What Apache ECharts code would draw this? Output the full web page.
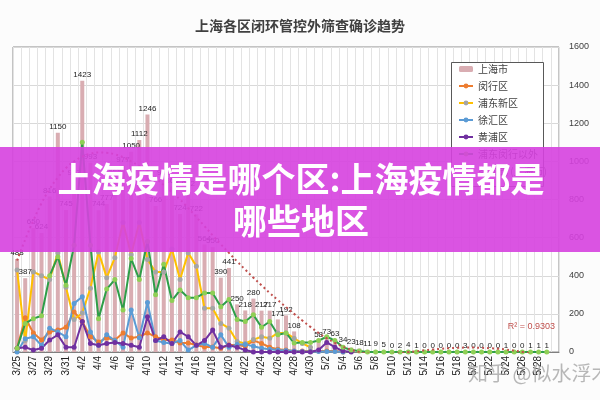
<!DOCTYPE html>
<html>
<head>
<meta charset="utf-8">
<title>上海各区闭环管控外筛查确诊趋势</title>
<script src="https://cdn.jsdelivr.net/npm/echarts@6/dist/echarts.min.js"></script>
<style>
  html, body { margin: 0; padding: 0; background: #fcfcfc; }
  #myChart { width: 600px; height: 400px; }
</style>
</head>
<body>
<div id="myChart"></div>
<script>
// 日期 3/25 - 5/29
var dates = [
  "3/25", "3/26", "3/27", "3/28", "3/29", "3/30", "3/31",
  "4/1", "4/2", "4/3", "4/4", "4/5", "4/6", "4/7", "4/8", "4/9", "4/10",
  "4/11", "4/12", "4/13", "4/14", "4/15", "4/16", "4/17", "4/18", "4/19", "4/20",
  "4/21", "4/22", "4/23", "4/24", "4/25", "4/26", "4/27", "4/28", "4/29", "4/30",
  "5/1", "5/2", "5/3", "5/4", "5/5", "5/6", "5/7", "5/8", "5/9", "5/10",
  "5/11", "5/12", "5/13", "5/14", "5/15", "5/16", "5/17", "5/18", "5/19", "5/20",
  "5/21", "5/22", "5/23", "5/24", "5/25", "5/26", "5/27", "5/28", "5/29"
];

// 上海市 (柱)
var shanghai = [
  488, 387, 650, 624, 816, 1150, 745,
  907, 1423, 993, 744, 777, 928, 977, 1050, 1112, 1246,
  766, 910, 868, 724, 852, 722, 564, 550, 390, 441,
  250, 218, 280, 217, 217, 171, 192, 108, null, null,
  58, 73, 63, 34, 23, 18, 11, 9, 5, 0,
  2, 4, 1, 0, 0, 0, 0, 0, 3, 0,
  0, 0, 0, 1, 0, 0, 1, 1, 1
];

var minhang = [
  20, 180, 100, 63, 105, 115, 130,
  210, 160, 80, 53, 73, 63, 100, 73, 80, 100,
  80, 63, 63, 47, 47, 37, 26, 26, 20, 37,
  37, 30, 60, 45, 25, 15, 10, 5, 5, 5,
  5, 5, 5, 0
];

var pudong = [
  430, 60, 420, 400, 380, 520, 340,
  170, 205, 335, 525, 390, 495, 680, 510, 680, 485,
  420, 420, 540, 380, 520, 450, 230, 230, 150, 125,
  55, 45, 65, 80, 72, 100, 100, 72, 45, 25
];

var xuhui = [
  0, 70, 80, 35, 125, 105, 80,
  255, 290, 105, 35, 90, 60, 25, 220, 75, 260,
  60, 50, 45, 60, 10, 35, 45, 25, 90, 25,
  40, 40, 30, 20, 15, 10, 8, 5, 3, 3,
  3, 3, 3, 0
];

var huangpu = [
  20, 25, 10, 20, 63, 90, 25,
  25, 160, 45, 35, 45, 50, 45, 35, 25, 185,
  60, 80, 45, 105, 80, 35, 60, 115, 25, 35,
  25, 10, 0, 0, 0, 0, 0, 0, 0, 0,
  10, 50, 25, 5, 0
];

var others = [
  20, 150, 175, 190, 400, 500, 350,
  560, 1100, 560, 175, 330, 380, 220, 490, 380, 580,
  300, 460, 270, 325, 285, 285, 310, 310, 237, 275,
  170, 160, 195, 130, 160, 90, 100, 47, 50, 50,
  60, 80, 60, 25, 10, 5, 0, 0, 0, 0,
  0, 0, 0, 0, 0, 0, 0, 0, 0, 0,
  0, 0, 0, 0, 0, 0, 0, 0, 0
];

// 多项式趋势线
var trend = [
  480, 590, 690, 780, 855, 915, 965,
  1000, 1025, 1040, 1047, 1045, 1037, 1022, 1000, 975, 945,
  912, 876, 838, 800, 755, 708, 660, 612, 565, 520,
  475, 432, 390, 350, 310, 272, 236, 200, 165, 132,
  100, 72, 48, 28, 12, 0, -8, -12, -12, -10,
  -6, -1, 4, 9, 13, 17, 20, 22, 23, 23,
  22, 20, 17, 13, 7, 0, -8, null, null
];

var yTicks = [0, 1600, 200];

var font = "'Liberation Sans', 'Noto Sans CJK SC', sans-serif";

function lineSeries(name, data, lineColor, dotColor) {
  return {
    name: name,
    type: "line",
    data: data,
    symbol: "circle",
    symbolSize: 5,
    z: 3,
    lineStyle: { color: lineColor, width: 2 },
    itemStyle: { color: dotColor }
  };
}

var myChart = echarts.init(document.getElementById("myChart"));
myChart.setOption({
  backgroundColor: "#fcfcfc",
  animation: false,
  textStyle: { fontFamily: font },
  title: {
    text: "上海各区闭环管控外筛查确诊趋势",
    left: "center",
    top: 14,
    textStyle: { fontSize: 14, fontWeight: "bold", color: "#404040", fontFamily: "'Noto Sans CJK SC'" }
  },
  grid: {
    left: 13,
    right: 41,
    top: 47,
    bottom: 48,
    show: true,
    backgroundColor: "#ffffff",
    borderColor: "#8c8c8c",
    borderWidth: 1
  },
  legend: {
    orient: "vertical",
    left: 458,
    top: 63,
    itemWidth: 14,
    itemHeight: 6,
    itemGap: 5,
    padding: 0,
    textStyle: { fontSize: 10, color: "#404040", lineHeight: 12, fontFamily: "'Noto Sans CJK SC'" },
    data: ["上海市", "闵行区", "浦东新区", "徐汇区", "黄浦区", "浦东闵行以外", "多项式 (上海市)"]
  },
  xAxis: {
    type: "category",
    data: dates.concat([""]),
    axisLine: { lineStyle: { color: "#7f7f7f" } },
    axisTick: { show: false },
    axisLabel: { interval: 1, rotate: 90, fontSize: 10, color: "#222", margin: 4 },
    splitLine: { show: true, interval: 0, lineStyle: { color: "#e3e3e3" } }
  },
  yAxis: {
    type: "value",
    position: "right",
    min: yTicks[0],
    max: yTicks[1],
    interval: yTicks[2],
    axisLine: { show: false },
    axisTick: { show: false },
    axisLabel: {
      fontSize: 9,
      color: "#404040",
      margin: 10,
      formatter: function (v) { return String(v); }
    },
    splitLine: { lineStyle: { color: "#d9d9d9" } }
  },
  series: [
    {
      name: "上海市",
      type: "bar",
      data: shanghai,
      barWidth: 4,
      z: 1,
      itemStyle: { color: "#d9adb2" },
      label: { show: true, position: "top", distance: 2, fontSize: 8, color: "#222" }
    },
    lineSeries("闵行区", minhang, "#ed7d31", "#ed7d31"),
    lineSeries("浦东新区", pudong, "#ffc000", "#a5a5a5"),
    lineSeries("徐汇区", xuhui, "#5b9bd5", "#5b9bd5"),
    lineSeries("黄浦区", huangpu, "#7030a0", "#7030a0"),
    lineSeries("浦东闵行以外", others, "#2e9e48", "#8fcf55"),
    {
      name: "多项式 (上海市)",
      type: "line",
      data: trend,
      smooth: true,
      symbol: "none",
      z: 4,
      lineStyle: { color: "#c0504d", width: 2, type: [2, 3] },
      itemStyle: { color: "#c0504d" }
    }
  ],
  graphic: [
    // 图例外框
    {
      type: "rect",
      z: 3,
      shape: { x: 451.5, y: 62.5, width: 92, height: 124 },
      style: { fill: "#ffffff", stroke: "#595959", lineWidth: 1 }
    },
    {
      type: "text",
      right: 45,
      top: 322,
      z: 5,
      style: { text: "R² = 0.9303", fill: "#c0504d", font: "9px " + font }
    },
    // 横幅
    {
      type: "rect",
      z: 100,
      shape: { x: 0, y: 147, width: 600, height: 105 },
      style: { fill: "rgba(214, 65, 223, 0.9)" }
    },
    {
      type: "text",
      z: 101,
      x: 301,
      y: 200,
      style: {
        text: "上海疫情是哪个区:上海疫情都是\n哪些地区",
        fill: "#ffffff",
        font: "bold 34px 'Noto Sans CJK SC'",
        align: "center",
        verticalAlign: "middle",
        lineHeight: 42,
        shadowColor: "rgba(0,0,0,0.35)",
        shadowBlur: 3,
        shadowOffsetX: 1,
        shadowOffsetY: 1
      }
    },
    // 水印
    {
      type: "text",
      z: 101,
      x: 468,
      y: 373,
      style: {
        text: "知乎 @似水浮木",
        fill: "rgba(160,160,160,0.75)",
        font: "20px 'Noto Sans CJK SC'",
        verticalAlign: "middle"
      }
    }
  ]
});
</script>
</body>
</html>
